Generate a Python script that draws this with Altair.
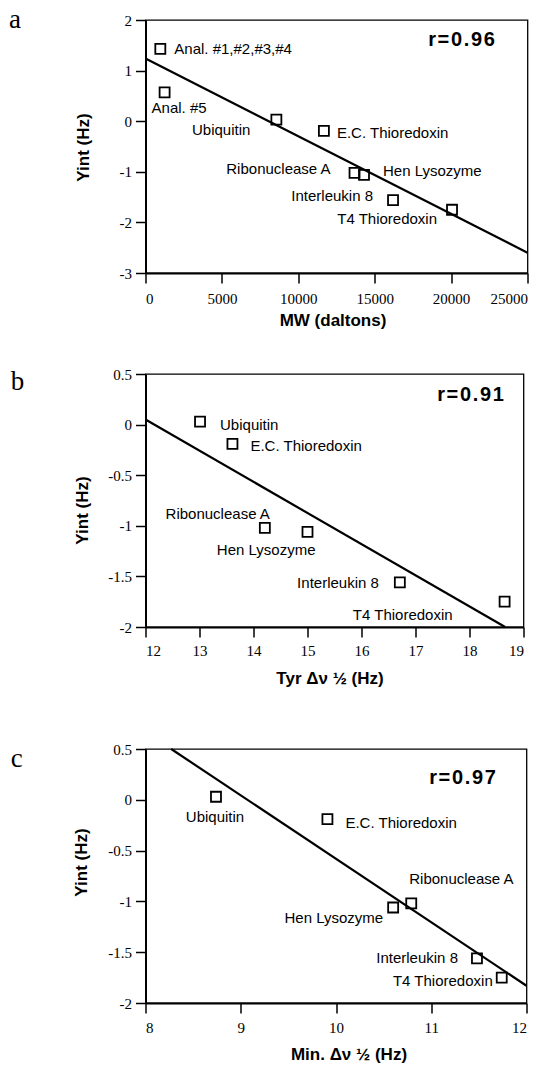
import altair as alt
import pandas as pd

# ---- data ----
proteins = ["Ubiquitin", "E.C. Thioredoxin", "Ribonuclease A", "Hen Lysozyme",
            "Interleukin 8", "T4 Thioredoxin"]
yint = [0.03, -0.19, -1.02, -1.06, -1.56, -1.75]
mw = [8565, 11675, 13680, 14300, 16200, 20060]
anal_names = ["Anal. #1,#2,#3,#4", "Anal. #5"]
anal_mw = [970, 1250]
anal_yint = [1.43, 0.57]
tyr_width = [13.01, 13.61, 14.21, 15.0, 16.71, 18.65]
min_width = [8.74, 9.91, 10.79, 10.60, 11.48, 11.74]

fit_a_x = [0, 25000]
fit_a_y = [1.24, -2.6]
fit_b_x = [12, 18.66]
fit_b_y = [0.05, -2.0]
fit_c_x = [8.27, 12]
fit_c_y = [0.5, -1.83]

HS = "\u200a"
r_texts = [HS.join("r=0.96"), HS.join("r=0.91"), HS.join("r=0.97")]
letters = ["a", "b", "c"]

xticks_a = [0, 5000, 10000, 15000, 20000, 25000]
yticks_a = [2, 1, 0, -1, -2, -3]
xticks_b = [12, 13, 14, 15, 16, 17, 18, 19]
xticks_c = [8, 9, 10, 11, 12]
yticks_bc = [0.5, 0, -0.5, -1, -1.5, -2]

SANS = "Liberation Sans"
SERIF = "Liberation Serif"
LBL = "datum.value < 0 ? '-' + abs(datum.value) : '' + datum.value"


def panel(xv, yv, names, fx, fy, xdom, ydom, xt, yt, xtitle, offsets,
          w, h, letter, lpos, rtext, rpos, ytpos, xtpos, xlabpad):
    df = pd.DataFrame({"x": xv, "y": yv, "name": names})
    fit = pd.DataFrame({"x": fx, "y": fy})
    xs = alt.Scale(domain=xdom, nice=False, zero=False)
    ys = alt.Scale(domain=ydom, nice=False, zero=False)
    common = dict(labelExpr=LBL, labelFont=SERIF, labelFontSize=15, labelColor="black",
                  domainColor="black", domainWidth=2, tickColor="black", tickWidth=1.5,
                  tickSize=10, grid=False, titleFont=SANS, titleFontSize=17,
                  titleFontWeight="bold", titleColor="black", titleAlign="center",
                  titleBaseline="middle")
    xax = alt.Axis(values=xt, title=xtitle, labelPadding=xlabpad,
                   titleX=xtpos[0], titleY=xtpos[1], **common)
    yax = alt.Axis(values=yt, title="Yint  (Hz)", labelPadding=4,
                   titleX=ytpos[0], titleY=ytpos[1], **common)
    pts = alt.Chart(df).mark_point(shape="square", filled=False, size=100,
                                   strokeWidth=1.8, color="black", opacity=1).encode(
        x=alt.X("x:Q", scale=xs, axis=xax),
        y=alt.Y("y:Q", scale=ys, axis=yax),
    )
    line = alt.Chart(fit).mark_line(color="black", strokeWidth=2.2).encode(
        x="x:Q", y="y:Q")
    layers = [line, pts]
    for n in names:
        dx, dy, al = offsets[n]
        layers.append(
            alt.Chart(df).transform_filter(alt.datum.name == n).mark_text(
                dx=dx, dy=dy, align=al, baseline="middle", font=SANS,
                fontSize=15, color="black").encode(x="x:Q", y="y:Q", text="name:N"))
    ldf = pd.DataFrame({"t": [letter]})
    layers.append(alt.Chart(ldf).mark_text(align="left", baseline="alphabetic",
                                           font=SERIF, fontSize=27, color="black").encode(
        text="t:N", x=alt.value(lpos[0]), y=alt.value(lpos[1])))
    rdf = pd.DataFrame({"t": [rtext]})
    layers.append(alt.Chart(rdf).mark_text(align="center", baseline="middle",
                                           font=SANS, fontSize=20, fontWeight="bold",
                                           color="black").encode(
        text="t:N", x=alt.value(rpos[0]), y=alt.value(rpos[1])))
    return alt.layer(*layers).properties(width=w, height=h)


off_a = {
    "Anal. #1,#2,#3,#4": (14, 0, "left"),
    "Anal. #5": (-13, 16, "left"),
    "Ubiquitin": (-26, 10, "right"),
    "E.C. Thioredoxin": (13, 2, "left"),
    "Ribonuclease A": (-24, -4, "right"),
    "Hen Lysozyme": (19, -4, "left"),
    "Interleukin 8": (-20, -4, "right"),
    "T4 Thioredoxin": (-15, 9, "right"),
}
off_b = {
    "Ubiquitin": (20, 3, "left"),
    "E.C. Thioredoxin": (18, 2, "left"),
    "Ribonuclease A": (5, -14, "right"),
    "Hen Lysozyme": (8, 18, "right"),
    "Interleukin 8": (-21, 1, "right"),
    "T4 Thioredoxin": (-52, 13, "right"),
}
off_c = {
    "Ubiquitin": (-1, 20, "center"),
    "E.C. Thioredoxin": (18, 4, "left"),
    "Ribonuclease A": (-2, -24, "left"),
    "Hen Lysozyme": (-10, 11, "right"),
    "Interleukin 8": (-19, 0, "right"),
    "T4 Thioredoxin": (-9, 3, "right"),
}

pa = panel(anal_mw + mw, anal_yint + yint, anal_names + proteins, fit_a_x, fit_a_y,
           [0, 25000], [-3, 2], xticks_a, yticks_a, "MW  (daltons)", off_a,
           382, 253, letters[0], (-136.5, 8), r_texts[0], (316, 20),
           (-62, 127), (187, 47), 8)
pb = panel(tyr_width, yint, proteins, fit_b_x, fit_b_y,
           [12, 19], [-2, 0.5], xticks_b, yticks_bc, "Tyr  \u0394\u03bd \u00bd  (Hz)", off_b,
           378, 253, letters[1], (-134.7, 16), r_texts[1], (325, 21),
           (-63, 136), (184, 51), 6)
pc = panel(min_width, yint, proteins, fit_c_x, fit_c_y,
           [8, 12], [-2, 0.5], xticks_c, yticks_bc, "Min. \u0394\u03bd \u00bd  (Hz)", off_c,
           381, 254, letters[2], (-134.7, 18), r_texts[2], (317, 29),
           (-64.5, 113), (203, 51), 7)

top = alt.concat(pa, pb, columns=1, spacing=37, align="none")
chart = alt.concat(top, pc, columns=1, spacing=54, align="none").properties(
    padding={"left": 7.5, "top": 5, "right": 0, "bottom": 0},
    background="white",
).configure_view(stroke="black", strokeWidth=1.3)

chart.save("out.html", embed_options={"renderer": "svg", "actions": False})
